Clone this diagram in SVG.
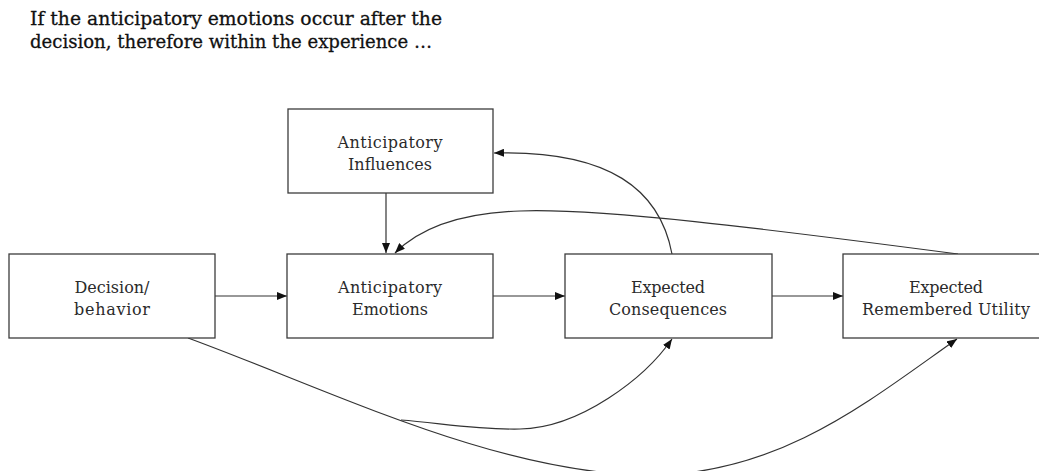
<svg xmlns="http://www.w3.org/2000/svg" width="1039" height="471" viewBox="0 0 1039 471">
<style>
.box{fill:#fff;stroke:#3c3c3c;stroke-width:1.3}
.lbl{font-family:"DejaVu Serif","Liberation Serif",serif;font-size:16px;fill:#2a2a2a;text-anchor:middle}
.title{font-family:"DejaVu Serif","Liberation Serif",serif;font-size:19px;fill:#111;stroke:#111;stroke-width:0.3}
.edge{fill:none;stroke:#333;stroke-width:1.2;marker-end:url(#ah)}
</style>
<defs>
<marker id="ah" markerUnits="userSpaceOnUse" markerWidth="10" markerHeight="8" refX="10" refY="4" orient="auto">
<path d="M0,0 L10,4 L0,8 z" fill="#111"/>
</marker>
</defs>
<rect width="1039" height="471" fill="#fff"/>
<g id="title">
<text class="title" x="30" y="25" textLength="412" lengthAdjust="spacingAndGlyphs">If the anticipatory emotions occur after the</text>
<text class="title" x="30" y="48" textLength="402" lengthAdjust="spacingAndGlyphs">decision, therefore within the experience …</text>
</g>
<g id="connectors">
<path class="edge" d="M215,296 L287,296"/>
<path class="edge" d="M493,296 L565,296"/>
<path class="edge" d="M772,296 L843,296"/>
<path class="edge" d="M386,193 L386,253"/>
<path class="edge" d="M672,254 C660,190 610,150 494,153"/>
<path class="edge" d="M958,254 C760,228 600,208 520,211 C460,213 420,228 395,253"/>
<path class="edge" d="M188,338 C330,390 500,475 650,475 C780,475 870,400 957,339"/>
<path class="edge" d="M401,420 C440,423 480,430 520,429 C580,428 645,378 672,339"/>
</g>
<g id="node-influences">
<rect class="box" x="288" y="109" width="205" height="84"/>
<text class="lbl" x="390" y="148" textLength="105" lengthAdjust="spacing">Anticipatory</text>
<text class="lbl" x="390" y="170" textLength="84" lengthAdjust="spacing">Influences</text>
</g>
<g id="node-decision">
<rect class="box" x="9" y="254" width="206" height="84"/>
<text class="lbl" x="112" y="293" textLength="75" lengthAdjust="spacing">Decision/</text>
<text class="lbl" x="112" y="315" textLength="76" lengthAdjust="spacing">behavior</text>
</g>
<g id="node-emotions">
<rect class="box" x="287" y="254" width="206" height="84"/>
<text class="lbl" x="390" y="293" textLength="104" lengthAdjust="spacing">Anticipatory</text>
<text class="lbl" x="390" y="315" textLength="76" lengthAdjust="spacing">Emotions</text>
</g>
<g id="node-consequences">
<rect class="box" x="565" y="254" width="207" height="84"/>
<text class="lbl" x="668" y="293" textLength="74" lengthAdjust="spacing">Expected</text>
<text class="lbl" x="668" y="315" textLength="118" lengthAdjust="spacing">Consequences</text>
</g>
<g id="node-utility">
<rect class="box" x="843" y="254" width="206" height="84"/>
<text class="lbl" x="946" y="293" textLength="74" lengthAdjust="spacing">Expected</text>
<text class="lbl" x="946" y="315" textLength="168" lengthAdjust="spacing">Remembered Utility</text>
</g>
</svg>
